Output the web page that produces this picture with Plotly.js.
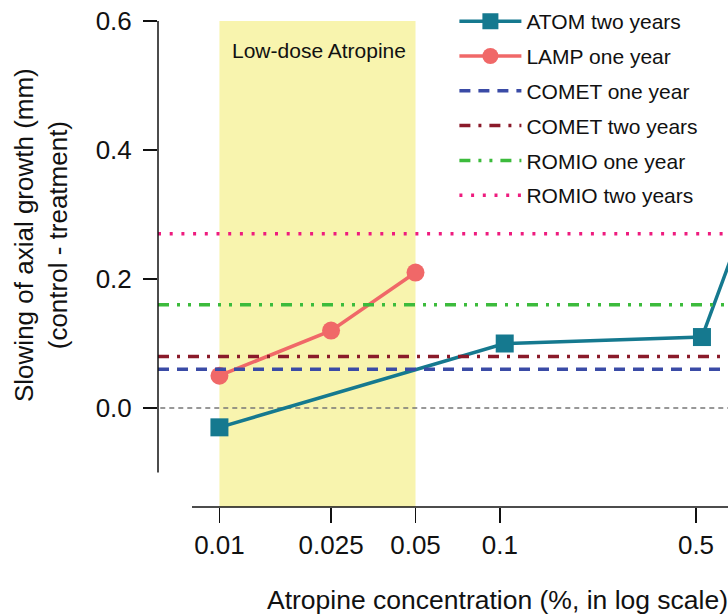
<!DOCTYPE html>
<html>
<head>
<meta charset="utf-8">
<script src="https://cdn.plot.ly/plotly-3.0.1.min.js"></script>
<style>html,body{margin:0;padding:0;background:#fff;}#chart{width:728px;height:615px;}</style>
</head>
<body>
<div id="chart"></div>
<script>
// ---- data ----
const atomX = [0.01, 0.104, 0.525, 1];
const atomY = [-0.03, 0.10, 0.11, 0.44];
const lampX = [0.01, 0.025, 0.05];
const lampY = [0.05, 0.12, 0.21];
const cometOneYear = 0.06;
const cometTwoYears = 0.08;
const romioOneYear = 0.16;
const romioTwoYears = 0.27;
const xTickVals = [0.01, 0.025, 0.05, 0.1, 0.5];
const xTickText = ['0.01', '0.025', '0.05', '0.1', '0.5'];
const yTickVals = [0, 0.2, 0.4, 0.6];
const yTickText = ['0.0', '0.2', '0.4', '0.6'];
const lowDoseBand = [0.01, 0.05];

// ---- axes ----
const xRange = [-2.219, -0.187];   // log10 units
const yRange = [-0.1535, 0.6];
const xLo = Math.pow(10, xRange[0]), xHi = Math.pow(10, xRange[1]);
const toPaperX = v => (Math.log10(v) - xRange[0]) / (xRange[1] - xRange[0]);

const FONT = '"Liberation Sans", Arial, Helvetica, sans-serif';

function hline(name, y, color, dash) {
  return {
    x: [xLo, xHi], y: [y, y], mode: 'lines', name: name, legendgroup: name,
    line: {color: color, width: 3.5, dash: dash}, hoverinfo: 'skip'
  };
}

const traces = [
  {x: atomX, y: atomY, mode: 'lines+markers', name: 'ATOM two years', legendgroup: 'a',
   line: {color: '#15798F', width: 3.5},
   marker: {symbol: 'square', size: 18, color: '#15798F'}},
  {x: lampX, y: lampY, mode: 'lines+markers', name: 'LAMP one year', legendgroup: 'b',
   line: {color: '#F06868', width: 3.5},
   marker: {symbol: 'circle', size: 18, color: '#F06868'}},
  hline('COMET one year', cometOneYear, '#3A4BA6', '11px,8px'),
  hline('COMET two years', cometTwoYears, '#8A1A2A', '11px,8px,3px,8px'),
  hline('ROMIO one year', romioOneYear, '#3CBB3C', '11px,8px,3px,8px,3px,8px'),
  hline('ROMIO two years', romioTwoYears, '#EE1B7E', '3px,8.7px')
];

const layout = {
  width: 728, height: 615,
  margin: {l: 158, r: 0, t: 21, b: 108, pad: 0},
  paper_bgcolor: '#ffffff', plot_bgcolor: 'rgba(0,0,0,0)',
  font: {family: FONT, color: '#111'},
  showlegend: true,
  legend: {
    x: 0.52, y: 1.041, xanchor: 'left', yanchor: 'top',
    font: {family: FONT, size: 21, color: '#111'},
    bgcolor: 'rgba(0,0,0,0)', traceorder: 'grouped', tracegroupgap: 4.5,
    itemwidth: 62
  },
  xaxis: {
    type: 'log', range: xRange, tickvals: xTickVals, ticktext: xTickText,
    ticks: 'outside', ticklen: 15, tickwidth: 1.5, tickcolor: '#111',
    showgrid: false, showline: false, zeroline: false,
    tickfont: {family: FONT, size: 26, color: '#111'}
  },
  yaxis: {
    range: yRange, tickvals: yTickVals, ticktext: yTickText,
    ticks: 'outside', ticklen: 14, tickwidth: 1.5, tickcolor: '#111',
    ticklabelstandoff: 6,
    showgrid: false, showline: false, zeroline: false,
    tickfont: {family: FONT, size: 26, color: '#111'}
  },
  shapes: [
    {type: 'rect', xref: 'paper', yref: 'y', x0: toPaperX(lowDoseBand[0]), x1: toPaperX(lowDoseBand[1]),
     y0: yRange[0], y1: 0.6, fillcolor: '#F8F4AE', line: {width: 0}, layer: 'below'},
    {type: 'line', xref: 'paper', yref: 'y', x0: 0.004, x1: 1, y0: 0, y1: 0,
     line: {color: '#777', width: 1.3, dash: '5px,4px'}, layer: 'below'},
    {type: 'line', xref: 'paper', yref: 'y', x0: 0, x1: 0, y0: -0.1, y1: 0.6,
     line: {color: '#111', width: 1.5}},
    {type: 'line', xref: 'paper', yref: 'paper', x0: (192 - 158) / 570, x1: 1, y0: 0, y1: 0,
     line: {color: '#111', width: 1.5}}
  ],
  annotations: [
    {text: 'Low-dose Atropine', xref: 'paper', yref: 'y',
     x: toPaperX(Math.sqrt(lowDoseBand[0] * lowDoseBand[1])) + 0.003, y: 0.555,
     xanchor: 'center', yanchor: 'middle',
     showarrow: false, font: {family: FONT, size: 21, color: '#111'}},
    {text: 'Slowing of axial growth (mm)<br>(control - treatment)', xref: 'paper', yref: 'paper',
     x: (41 - 158) / 570, y: (507 - 235) / 486, xanchor: 'center', yanchor: 'middle',
     textangle: -90, showarrow: false,
     font: {family: FONT, size: 26, color: '#111'}},
    {text: 'Atropine concentration (%, in log scale)', xref: 'paper', yref: 'paper',
     x: (265 - 158) / 570, y: -0.191, xanchor: 'left', yanchor: 'middle', showarrow: false,
     font: {family: FONT, size: 26.5, color: '#111'}}
  ]
};

Plotly.newPlot('chart', traces, layout, {displayModeBar: false, staticPlot: true});
</script>
</body>
</html>
